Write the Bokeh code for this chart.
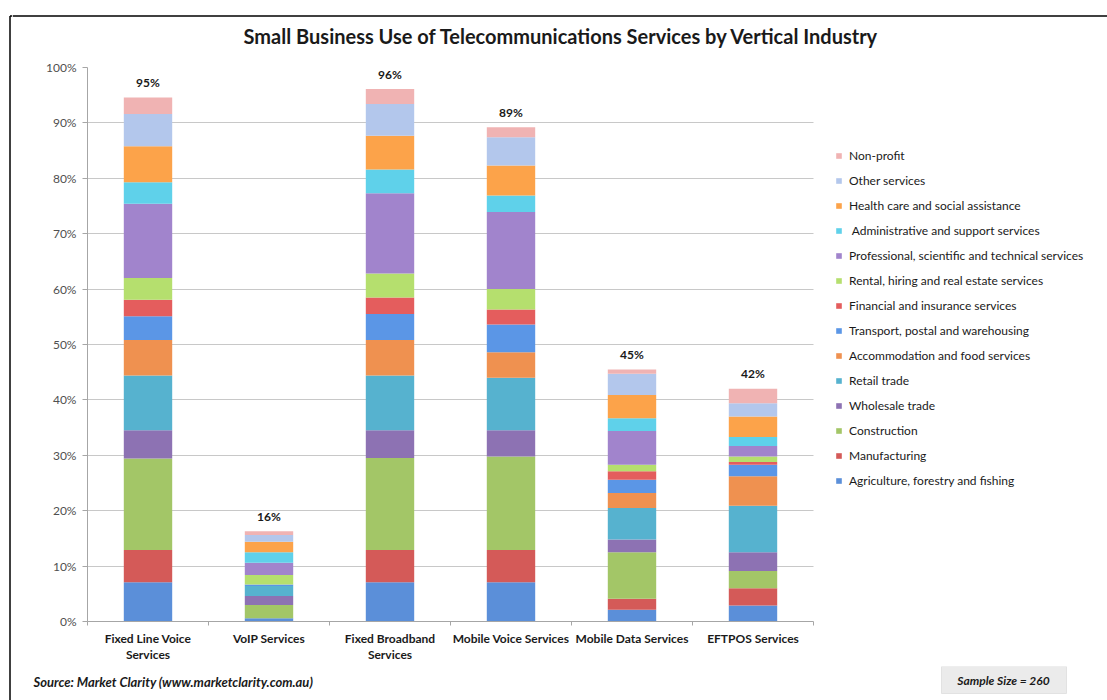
from bokeh.plotting import figure
from bokeh.layouts import row, column
from bokeh.models import (Range1d, PrintfTickFormatter, FixedTicker, Legend, LegendItem,
                          BoxAnnotation, ColumnDataSource)
from bokeh.core.properties import value
from bokeh.embed import file_html
from bokeh.resources import INLINE

# ---------------- data ----------------
services = ["Fixed Line Voice\nServices", "VoIP Services", "Fixed Broadband\nServices",
            "Mobile Voice Services", "Mobile Data Services", "EFTPOS Services"]
total_labels = ["95%", "16%", "96%", "89%", "45%", "42%"]
y_ticks = [0, 10, 20, 30, 40, 50, 60, 70, 80, 90, 100]

# industries, stacked bottom -> top (percent of small businesses)
agriculture    = [7.1, 0.6, 7.1, 7.1, 2.1, 2.9]
manufacturing  = [5.8, 0.0, 5.8, 5.8, 2.0, 3.1]
construction   = [16.5, 2.4, 16.6, 16.9, 8.4, 3.1]
wholesale      = [5.1, 1.6, 5.0, 4.7, 2.3, 3.4]
retail         = [9.9, 1.8, 9.9, 9.5, 5.7, 8.4]
accommodation  = [6.4, 0.0, 6.4, 4.6, 2.7, 5.3]
transport      = [4.3, 0.3, 4.7, 5.0, 2.4, 2.1]
financial      = [3.0, 0.0, 3.0, 2.7, 1.5, 0.5]
rental         = [3.9, 1.7, 4.3, 3.7, 1.2, 1.0]
professional   = [13.4, 2.2, 14.5, 13.9, 6.1, 1.9]
administrative = [3.9, 1.9, 4.3, 3.0, 2.3, 1.6]
health         = [6.5, 1.9, 6.1, 5.4, 4.2, 3.7]
other          = [5.8, 1.2, 5.7, 5.1, 3.8, 2.4]
nonprofit      = [3.0, 0.7, 2.7, 1.8, 0.8, 2.6]

industry_names = ["Agriculture, forestry and fishing", "Manufacturing", "Construction",
                  "Wholesale trade", "Retail trade", "Accommodation and food services",
                  "Transport, postal and warehousing", "Financial and insurance services",
                  "Rental, hiring and real estate services",
                  "Professional, scientific and technical services",
                  " Administrative and support services", "Health care and social assistance",
                  "Other services", "Non-profit"]
industry_values = [agriculture, manufacturing, construction, wholesale, retail, accommodation,
                   transport, financial, rental, professional, administrative, health, other,
                   nonprofit]
colors = ["#5b8fd9", "#d45a58", "#a3c667", "#8d72b3", "#56b2cf", "#ef9150", "#5b96e6",
          "#e45d5d", "#b5df6e", "#a184cc", "#5fd1ea", "#fca34a", "#b3c7ec", "#f0b3b3"]

title_text = "Small Business Use of Telecommunications Services by Vertical Industry"
source_text = "Source: Market Clarity (www.marketclarity.com.au)"
sample_text = "Sample Size = 260"

FONT = "Lato"
n = len(services)
xpos = [i + 0.5 for i in range(n)]

keys = ["s%d" % i for i in range(len(industry_names))]
data = {"x": xpos}
for k, v in zip(keys, industry_values):
    data[k] = v
source = ColumnDataSource(data)
totals = [sum(col[i] for col in industry_values) for i in range(n)]
label_source = ColumnDataSource(dict(x=xpos, total=totals, label=total_labels))

# ---------------- geometry (px) ----------------
STRIP_W = 12
W = 1095                     # width of the right-hand column
HEAD_H, MAIN_H, FOOT_H = 50, 616, 34
FL, FR, FT, FB = 75, 1093, 17, 571   # plot frame inside main figure
CAT_PX = 121.0               # width of one category slot


def no_align(f):
    try:
        f.frame_align = False
    except Exception:
        pass


def blank(width, height, x_end, y_start):
    f = figure(width=width, height=height, x_range=Range1d(0, x_end),
               y_range=Range1d(y_start, 0), x_axis_type=None, y_axis_type=None,
               output_backend="svg", toolbar_location=None, min_border=0)
    f.outline_line_color = None
    f.background_fill_color = "white"
    f.border_fill_color = "white"
    f.grid.visible = False
    no_align(f)
    return f


# left strip with the frame's left edge
strip = blank(STRIP_W, HEAD_H + MAIN_H + FOOT_H, STRIP_W, HEAD_H + MAIN_H + FOOT_H)
strip.segment(x0=[9.5, 9.5], y0=[15.5, 15.5], x1=[9.5, STRIP_W], y1=[720, 15.5],
              line_color="black", line_width=1.5)

# header with title and frame top edge
head = blank(W, HEAD_H, W, HEAD_H)
head.segment(x0=[0], y0=[15.5], x1=[W], y1=[15.5], line_color="black", line_width=1.5)
head.text(x=[549], y=[35], text=[title_text], text_align="center", text_baseline="middle",
          text_font=value(FONT), text_font_style="bold", text_font_size="20px",
          text_color="#1a1a1a")

# ---------------- main chart ----------------
p = figure(width=W, height=MAIN_H, x_range=Range1d(0, (FR - FL) / CAT_PX),
           y_range=Range1d(0, 100), output_backend="svg", toolbar_location=None,
           min_border_left=FL, min_border_right=W - FR, min_border_top=FT,
           min_border_bottom=MAIN_H - FB)
p.outline_line_color = None
p.background_fill_color = "white"
p.border_fill_color = "white"
no_align(p)

renderers = p.vbar_stack(keys, x="x", width=0.4, color=colors, line_color=None, source=source)
p.text(x="x", y="total", text="label", source=label_source, text_align="center",
       text_baseline="middle", y_offset=-15, text_font=value(FONT), text_font_style="bold",
       text_font_size="12px", text_color="#1a1a1a")

p.xgrid.visible = False
p.ygrid.grid_line_color = "#c8c8c8"
p.ygrid.grid_line_width = 1
try:
    p.ygrid.cross_bounds = (0, n)
except Exception:
    p.add_layout(BoxAnnotation(left=n, fill_color="white", fill_alpha=1, line_color=None,
                               level="underlay"))

p.yaxis.ticker = FixedTicker(ticks=y_ticks)
p.yaxis.formatter = PrintfTickFormatter(format="%d%%")
p.yaxis.axis_line_color = "#a6a6a6"
p.yaxis.major_tick_line_color = "#a6a6a6"
p.yaxis.major_tick_in = 0
p.yaxis.major_tick_out = 5
p.yaxis.minor_tick_line_color = None
p.yaxis.major_label_text_font = FONT
p.yaxis.major_label_text_font_size = "12px"
p.yaxis.major_label_text_color = "#505050"
p.yaxis.major_label_standoff = 6

p.xaxis.ticker = FixedTicker(ticks=xpos, minor_ticks=list(range(n + 1)))
p.xaxis.major_label_overrides = {x: s for x, s in zip(xpos, services)}
p.xaxis.bounds = (0, n)
p.xaxis.axis_line_color = "#a6a6a6"
p.xaxis.major_tick_line_color = None
p.xaxis.major_tick_out = 0
p.xaxis.major_tick_in = 0
p.xaxis.minor_tick_line_color = "#a6a6a6"
p.xaxis.minor_tick_in = 0
p.xaxis.minor_tick_out = 4
p.xaxis.major_label_text_font = FONT
p.xaxis.major_label_text_font_style = "bold"
p.xaxis.major_label_text_font_size = "12px"
p.xaxis.major_label_text_line_height = 1.1
p.xaxis.major_label_text_color = "#1a1a1a"
p.xaxis.major_label_standoff = 5

items = [LegendItem(label=nm, renderers=[r]) for nm, r in zip(industry_names, renderers)][::-1]
legend = Legend(items=items, location=(748, 133), orientation="vertical")
legend.label_text_font = FONT
legend.label_text_font_size = "12px"
legend.label_text_color = "#1a1a1a"
legend.glyph_width = 7
legend.glyph_height = 7
legend.label_standoff = 7
legend.label_height = 16
legend.spacing = 9
legend.padding = 10
legend.margin = 0
legend.border_line_color = None
legend.background_fill_alpha = 0
p.add_layout(legend)

# ---------------- footer ----------------
foot = blank(W, FOOT_H, W, FOOT_H)
foot.text(x=[21], y=[15], text=[source_text], text_align="left", text_baseline="middle",
          text_font=value(FONT), text_font_style="bold italic", text_font_size="13px",
          text_color="#1a1a1a")
foot.quad(left=[929], right=[1054], top=[0], bottom=[27], fill_color="#ebebeb",
          line_color="#e2e2e2")
foot.text(x=[991], y=[14], text=[sample_text], text_align="center", text_baseline="middle",
          text_font=value(FONT), text_font_style="bold italic", text_font_size="12px",
          text_color="#1a1a1a")

layout = row(strip, column(head, p, foot))
open("out.html", "w").write(file_html(layout, INLINE))
